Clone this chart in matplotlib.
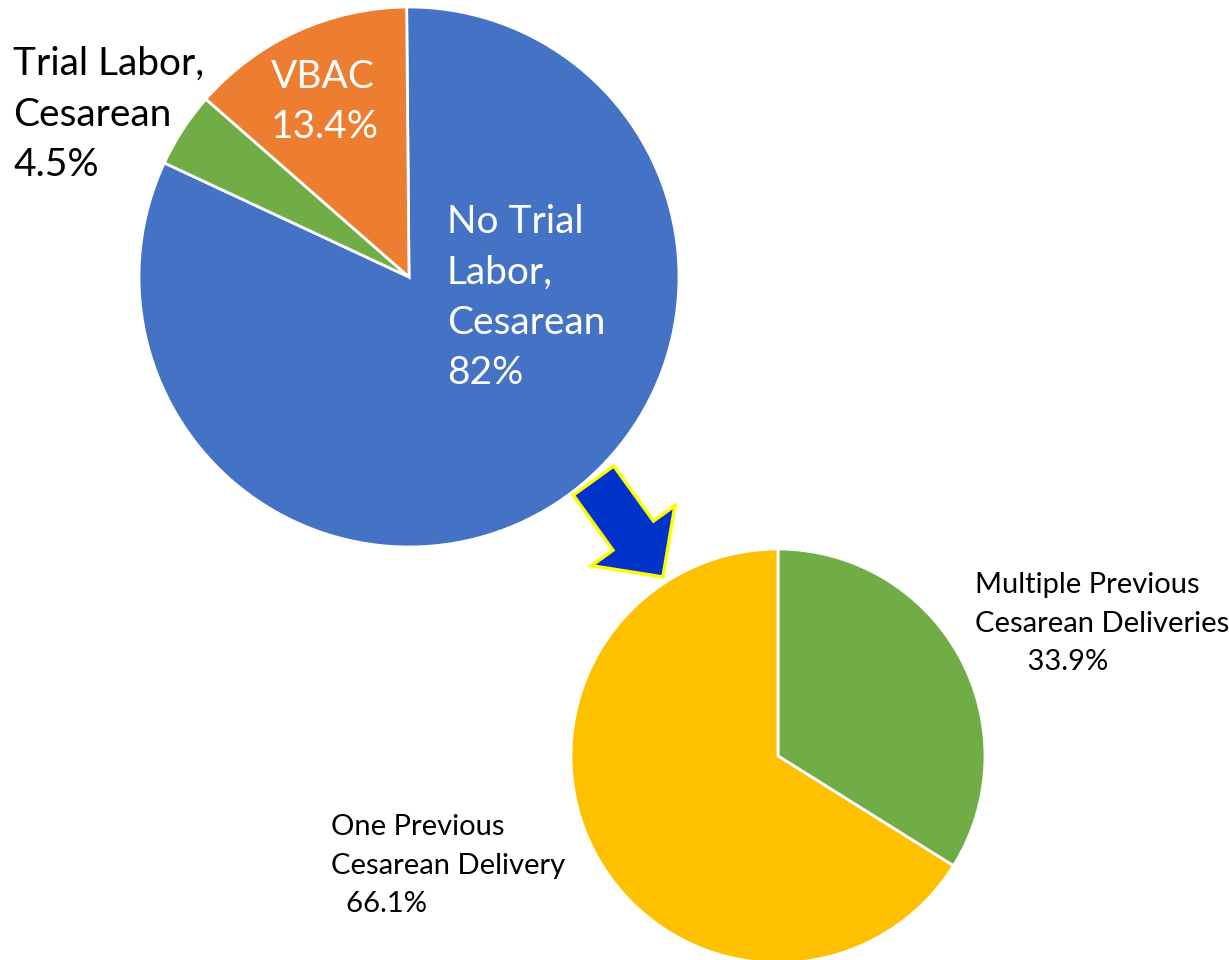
import matplotlib
matplotlib.use('Agg')
import matplotlib.pyplot as plt
from matplotlib.patches import FancyArrow

# top pie: outcome of women with a previous cesarean
main_labels = ['No Trial\nLabor,\nCesarean', 'Trial Labor,\nCesarean', 'VBAC']
main_values = [82.0, 4.5, 13.4]
main_pct = ['82%', '4.5%', '13.4%']
main_colors = ['#4472C4', '#70AD47', '#ED7D31']

# bottom pie: breakdown of "No Trial Labor, Cesarean"
sub_labels = ['Multiple Previous\nCesarean Deliveries', 'One Previous\nCesarean Delivery']
sub_values = [33.9, 66.1]
sub_pct = ['33.9%', '66.1%']
sub_colors = ['#70AD47', '#FFC000']

plt.rcParams['font.family'] = ['Lato', 'DejaVu Sans']

fig = plt.figure(figsize=(12.29, 9.6), dpi=100)
ax = fig.add_axes([0, 0, 1, 1])

wedge_style = dict(edgecolor='white', linewidth=2)

ax.pie(main_values, colors=main_colors, startangle=90.5, counterclock=False,
       center=(409, 683), radius=270, wedgeprops=wedge_style)
ax.pie(sub_values, colors=sub_colors, startangle=90, counterclock=False,
       center=(778, 204), radius=207, wedgeprops=wedge_style)

# pie() resets the limits, so set them afterwards (pixel-like units)
ax.set_xlim(0, 1229)
ax.set_ylim(0, 960)
ax.set_aspect('equal')
ax.axis('off')

# labels of the top pie
big = dict(fontsize=28, linespacing=1.5, va='top', ha='left')
ax.text(447, 756, main_labels[0] + '\n' + main_pct[0], color='white', **big)
ax.text(13, 914, main_labels[1] + '\n' + main_pct[1], color='black', **big)
ax.text(271, 901, main_labels[2] + '\n' + main_pct[2], color='white', **big)

# labels of the bottom pie
small = dict(fontsize=21, linespacing=1.6, va='top', ha='left', color='black')
ax.text(975, 388, sub_labels[0] + '\n       ' + sub_pct[0], **small)
ax.text(331, 146, sub_labels[1] + '\n  ' + sub_pct[1], **small)

# arrow linking the blue slice to its breakdown
arrow = FancyArrow(593.5, 479.5, 69.5, -96.5, width=50, head_width=103,
                   head_length=51, length_includes_head=True,
                   facecolor='#0033CC', edgecolor='#FFFF00', linewidth=2.5)
ax.add_patch(arrow)

fig.savefig('out.png', dpi=100)
